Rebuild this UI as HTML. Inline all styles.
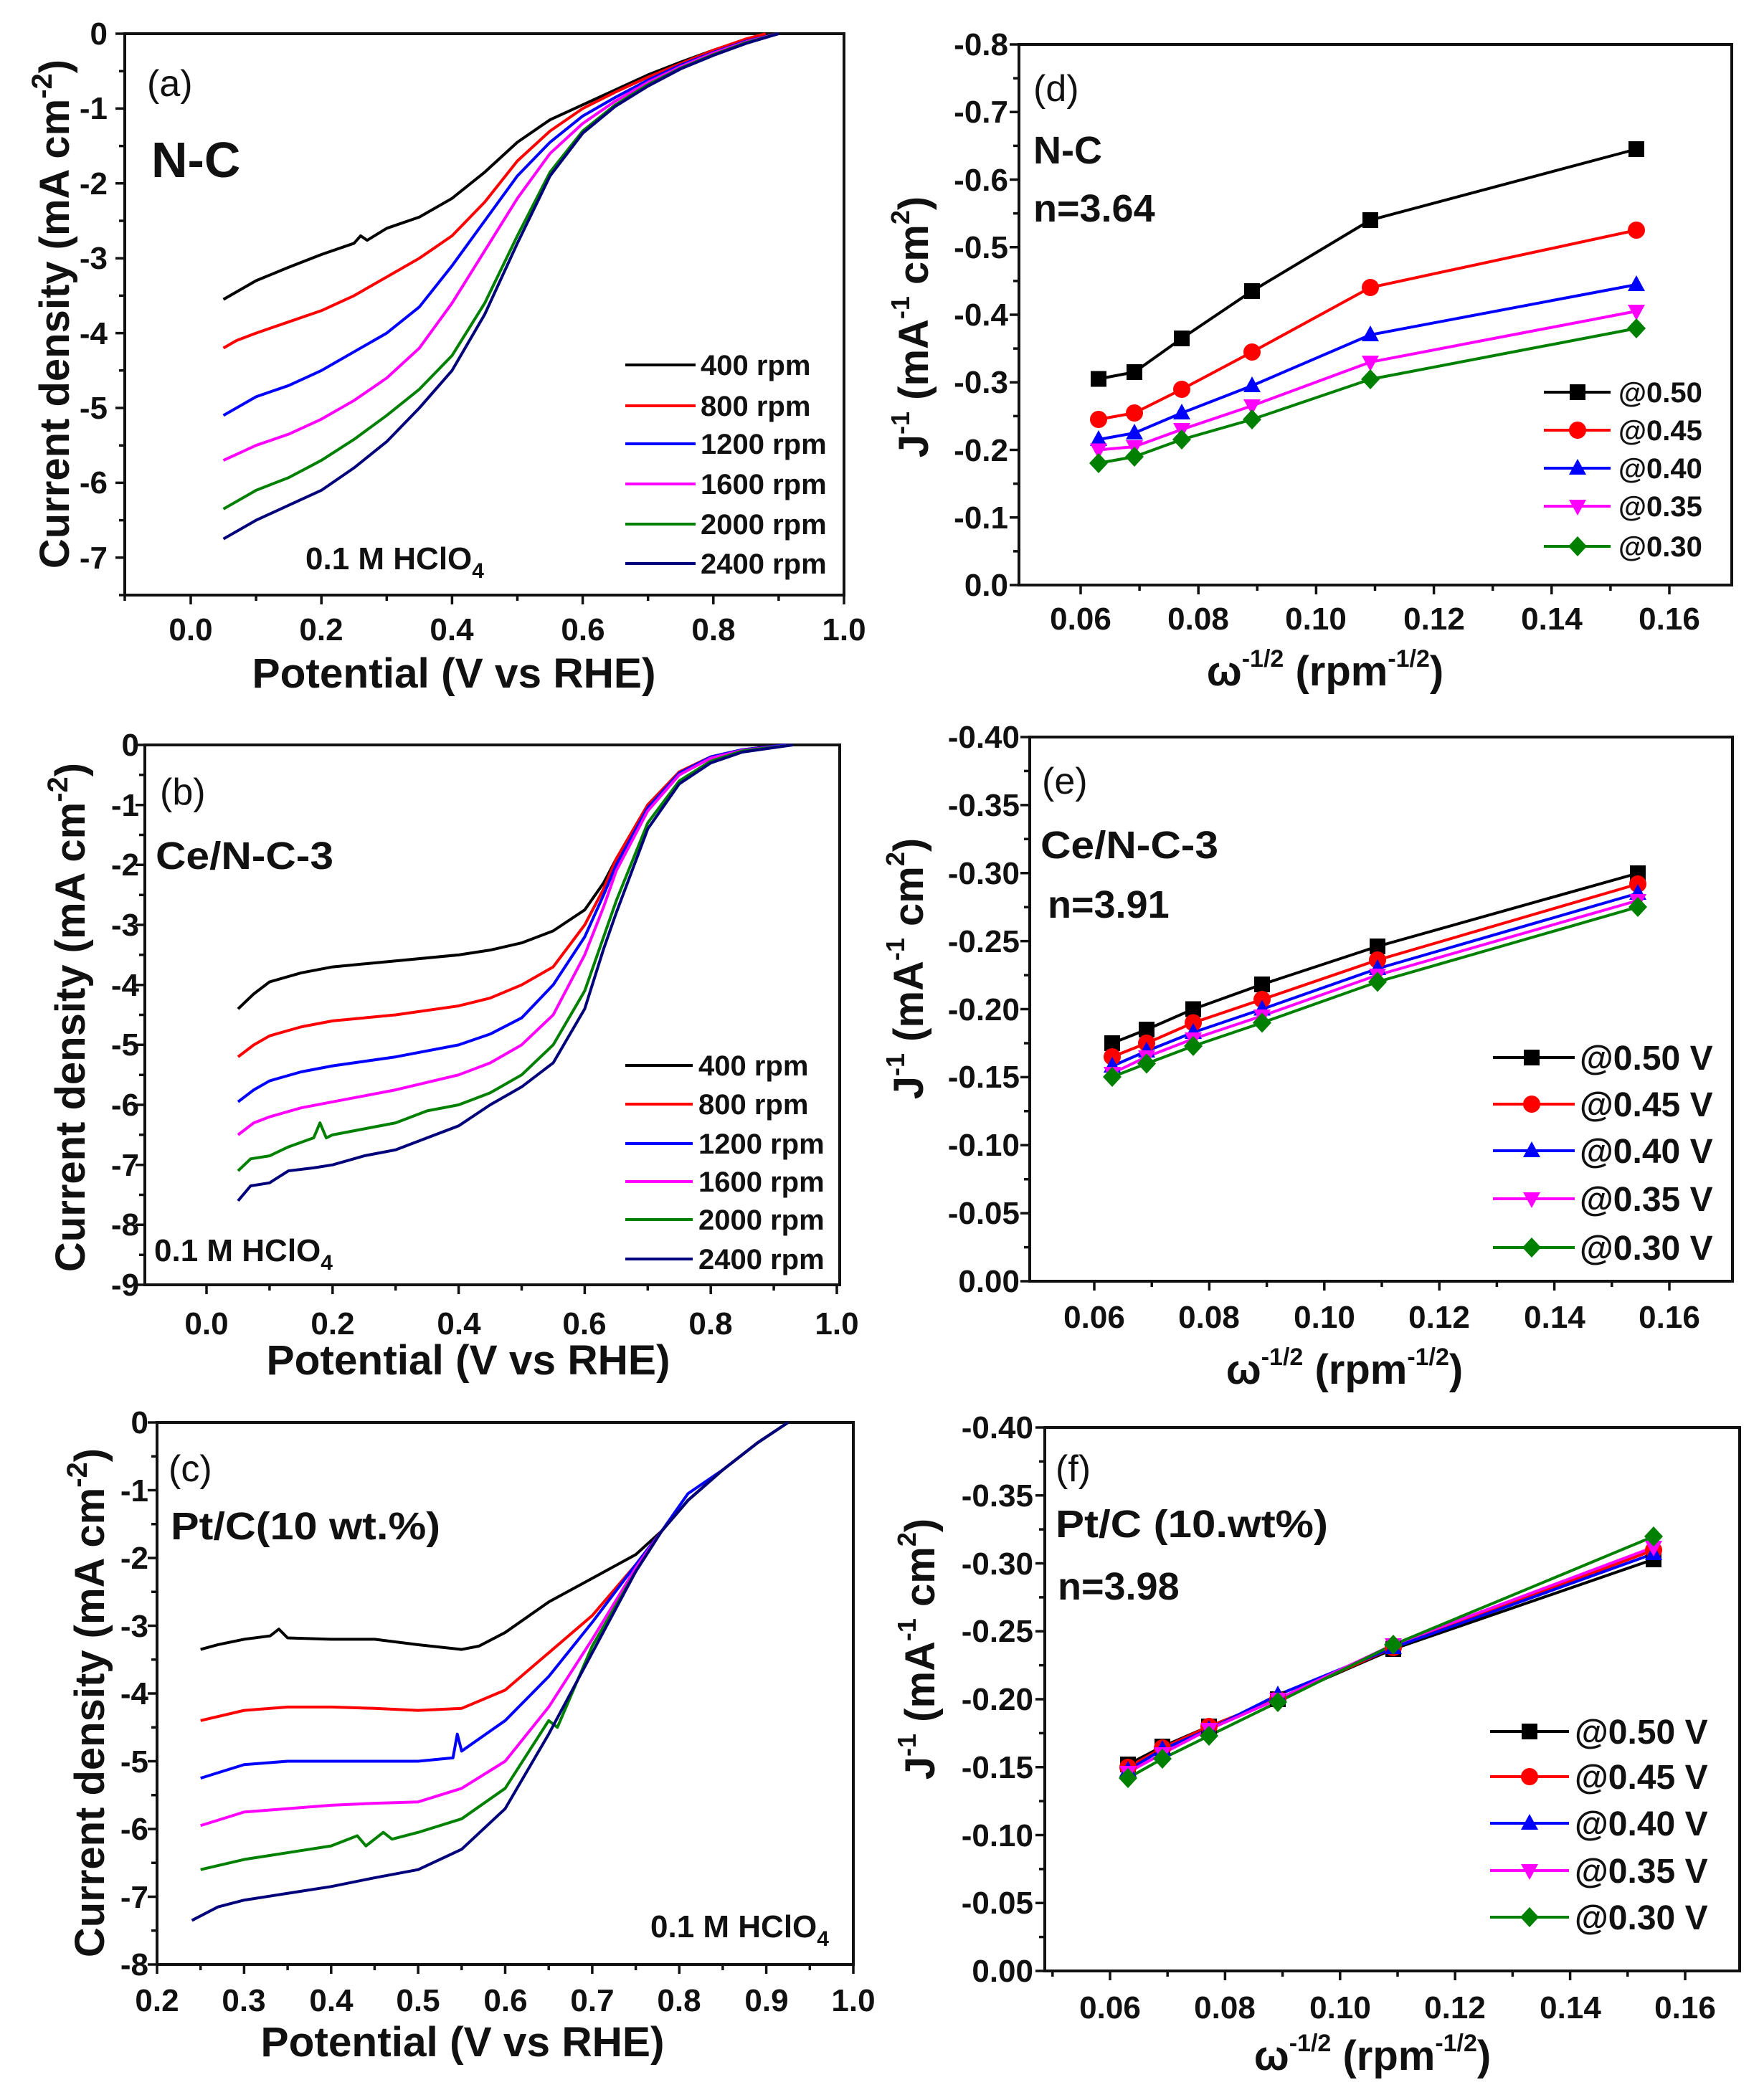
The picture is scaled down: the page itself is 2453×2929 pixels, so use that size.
<!DOCTYPE html>
<html><head><meta charset="utf-8"><style>
html,body{margin:0;padding:0;background:#fff}
svg{display:block}
text{font-family:"Liberation Sans",Arial,sans-serif;font-weight:bold;fill:#111}
.c{fill:none;stroke-width:4;vector-effect:non-scaling-stroke;stroke-linejoin:round}
.ax{fill:none;stroke:#111;stroke-width:4}
.tk{stroke:#111;stroke-width:3.5}
.tl{font-size:44px}
.tt{font-size:58px}
.lg{font-size:40px}
.l{stroke-width:4;fill:none}
</style></head><body>
<svg width="2453" height="2929" viewBox="0 0 2453 2929" xmlns="http://www.w3.org/2000/svg">
<defs>
<rect id="sq" x="-11" y="-11" width="22" height="22"/>
<circle id="ci" r="12"/>
<path id="tu" d="M0,-13 L12,9 L-12,9Z"/>
<path id="td" d="M0,13 L12,-9 L-12,-9Z"/>
<path id="di" d="M0,-14 L13,0 L0,14 L-13,0Z"/>
</defs>

<!-- ============ (a) ============ -->
<rect class="ax" x="174" y="47" width="1003" height="783"/>
<path class="tk" d="M266,830v13M448.2,830v13M630.4,830v13M812.6,830v13M994.8,830v13M1177,830v13M357.1,830v8M539.3,830v8M721.5,830v8M903.7,830v8M1085.9,830v8M174,830v8
M174,47h-13M174,151.4h-13M174,255.8h-13M174,360.2h-13M174,464.6h-13M174,569h-13M174,673.4h-13M174,777.8h-13
M174,99.2h-8M174,203.6h-8M174,308h-8M174,412.4h-8M174,516.8h-8M174,621.2h-8M174,725.6h-8M174,830h-8"/>
<g class="tl" text-anchor="end">
<text x="150" y="62">0</text><text x="150" y="166">-1</text><text x="150" y="271">-2</text><text x="150" y="375">-3</text><text x="150" y="480">-4</text><text x="150" y="584">-5</text><text x="150" y="688">-6</text><text x="150" y="793">-7</text>
</g>
<g class="tl" text-anchor="middle">
<text x="266" y="893">0.0</text><text x="448" y="893">0.2</text><text x="630" y="893">0.4</text><text x="813" y="893">0.6</text><text x="995" y="893">0.8</text><text x="1177" y="893">1.0</text>
</g>
<text class="tt" x="633" y="959" text-anchor="middle" textLength="563" lengthAdjust="spacingAndGlyphs">Potential (V vs RHE)</text>
<text class="tt" transform="translate(96,438) rotate(-90)" text-anchor="middle">Current density (mA cm<tspan font-size="40" dy="-24">-2</tspan><tspan dy="24">)</tspan></text>
<text x="205" y="134" font-size="52" style="font-weight:normal">(a)</text>
<text x="211" y="247" font-size="70">N-C</text>
<text x="426" y="794" font-size="44">0.1 M HClO<tspan font-size="30" dy="12">4</tspan></text>
<g transform="matrix(911 0 0 -104.4 266 47)">
<polyline class="c" stroke="#000" points="0.05,-3.55 0.1,-3.3 0.15,-3.12 0.2,-2.95 0.25,-2.8 0.26,-2.7 0.27,-2.76 0.3,-2.6 0.35,-2.45 0.4,-2.2 0.45,-1.85 0.5,-1.45 0.55,-1.15 0.6,-0.95 0.65,-0.75 0.7,-0.55 0.75,-0.38 0.8,-0.22 0.85,-0.08 0.88,0"/>
<polyline class="c" stroke="#f00" points="0.05,-4.2 0.07,-4.1 0.1,-4.0 0.15,-3.85 0.2,-3.7 0.25,-3.5 0.3,-3.25 0.35,-3.0 0.4,-2.7 0.45,-2.25 0.5,-1.7 0.55,-1.3 0.6,-1.0 0.65,-0.78 0.7,-0.58 0.75,-0.4 0.8,-0.22 0.85,-0.07 0.88,0"/>
<polyline class="c" stroke="#00f" points="0.05,-5.1 0.1,-4.85 0.15,-4.7 0.2,-4.5 0.25,-4.25 0.3,-4.0 0.35,-3.65 0.4,-3.1 0.45,-2.5 0.5,-1.9 0.55,-1.45 0.6,-1.1 0.65,-0.85 0.7,-0.62 0.75,-0.42 0.8,-0.25 0.85,-0.1 0.9,0"/>
<polyline class="c" stroke="#f0f" points="0.05,-5.7 0.1,-5.5 0.15,-5.35 0.2,-5.15 0.25,-4.9 0.3,-4.6 0.35,-4.2 0.4,-3.6 0.45,-2.9 0.5,-2.2 0.55,-1.6 0.6,-1.2 0.65,-0.9 0.7,-0.65 0.75,-0.44 0.8,-0.26 0.85,-0.11 0.9,0"/>
<polyline class="c" stroke="#008000" points="0.05,-6.35 0.1,-6.1 0.15,-5.93 0.2,-5.7 0.25,-5.42 0.3,-5.1 0.35,-4.75 0.4,-4.3 0.45,-3.6 0.5,-2.7 0.55,-1.85 0.6,-1.3 0.65,-0.95 0.7,-0.68 0.75,-0.46 0.8,-0.28 0.85,-0.12 0.9,0"/>
<polyline class="c" stroke="#00007a" points="0.05,-6.75 0.1,-6.5 0.15,-6.3 0.2,-6.1 0.25,-5.8 0.3,-5.45 0.35,-5.0 0.4,-4.5 0.45,-3.75 0.5,-2.8 0.55,-1.9 0.6,-1.33 0.65,-0.97 0.7,-0.7 0.75,-0.47 0.8,-0.29 0.85,-0.13 0.9,0"/>
</g>
<g class="l">
<path d="M872,509h98" stroke="#000"/><path d="M872,566h98" stroke="#f00"/><path d="M872,619h98" stroke="#00f"/><path d="M872,675h98" stroke="#f0f"/><path d="M872,731h98" stroke="#008000"/><path d="M872,786h98" stroke="#00007a"/>
</g>
<g class="lg">
<text x="977" y="523">400 rpm</text><text x="977" y="580">800 rpm</text><text x="977" y="633">1200 rpm</text><text x="977" y="689">1600 rpm</text><text x="977" y="745">2000 rpm</text><text x="977" y="800">2400 rpm</text>
</g>

<!-- ============ (b) ============ -->
<rect class="ax" x="202" y="1039" width="969" height="753"/>
<path class="tk" d="M288,1792v13M463.8,1792v13M639.6,1792v13M815.4,1792v13M991.2,1792v13M1167,1792v13M375.9,1792v8M551.7,1792v8M727.5,1792v8M903.3,1792v8M1079.1,1792v8
M202,1039h-13M202,1122.7h-13M202,1206.3h-13M202,1290h-13M202,1373.7h-13M202,1457.3h-13M202,1541h-13M202,1624.7h-13M202,1708.3h-13M202,1792h-13
M202,1080.8h-8M202,1164.5h-8M202,1248.2h-8M202,1331.8h-8M202,1415.5h-8M202,1499.2h-8M202,1582.8h-8M202,1666.5h-8M202,1750.2h-8"/>
<g class="tl" text-anchor="end">
<text x="194" y="1054">0</text><text x="194" y="1138">-1</text><text x="194" y="1221">-2</text><text x="194" y="1305">-3</text><text x="194" y="1389">-4</text><text x="194" y="1472">-5</text><text x="194" y="1556">-6</text><text x="194" y="1640">-7</text><text x="194" y="1723">-8</text><text x="194" y="1807">-9</text>
</g>
<g class="tl" text-anchor="middle">
<text x="288" y="1861">0.0</text><text x="464" y="1861">0.2</text><text x="640" y="1861">0.4</text><text x="815" y="1861">0.6</text><text x="991" y="1861">0.8</text><text x="1167" y="1861">1.0</text>
</g>
<text class="tt" x="653" y="1917" text-anchor="middle" textLength="563" lengthAdjust="spacingAndGlyphs">Potential (V vs RHE)</text>
<text class="tt" transform="translate(118,1419) rotate(-90)" text-anchor="middle">Current density (mA cm<tspan font-size="40" dy="-24">-2</tspan><tspan dy="24">)</tspan></text>
<text x="223" y="1122" font-size="52" style="font-weight:normal">(b)</text>
<text x="217" y="1212" font-size="54" textLength="248" lengthAdjust="spacingAndGlyphs">Ce/N-C-3</text>
<text x="215" y="1759" font-size="44">0.1 M HClO<tspan font-size="30" dy="12">4</tspan></text>
<g transform="matrix(879 0 0 -83.67 288 1039)">
<polyline class="c" stroke="#000" points="0.05,-4.4 0.075,-4.15 0.1,-3.95 0.15,-3.8 0.2,-3.7 0.3,-3.6 0.4,-3.5 0.45,-3.42 0.5,-3.3 0.55,-3.1 0.6,-2.75 0.63,-2.3 0.65,-1.9 0.7,-1.0 0.75,-0.45 0.8,-0.2 0.85,-0.08 0.92,0"/>
<polyline class="c" stroke="#f00" points="0.05,-5.2 0.075,-5.0 0.1,-4.85 0.15,-4.7 0.2,-4.6 0.3,-4.5 0.4,-4.35 0.45,-4.22 0.5,-4.0 0.55,-3.7 0.6,-3.0 0.63,-2.4 0.65,-1.9 0.7,-1.0 0.75,-0.45 0.8,-0.2 0.85,-0.08 0.92,0"/>
<polyline class="c" stroke="#00f" points="0.05,-5.95 0.075,-5.75 0.1,-5.6 0.15,-5.45 0.2,-5.35 0.3,-5.2 0.4,-5.0 0.45,-4.82 0.5,-4.55 0.55,-4.0 0.6,-3.2 0.63,-2.5 0.65,-2.0 0.7,-1.05 0.75,-0.47 0.8,-0.2 0.85,-0.08 0.92,0"/>
<polyline class="c" stroke="#f0f" points="0.05,-6.5 0.075,-6.3 0.1,-6.2 0.15,-6.05 0.2,-5.95 0.3,-5.75 0.4,-5.5 0.45,-5.3 0.5,-5.0 0.55,-4.5 0.6,-3.5 0.63,-2.7 0.65,-2.1 0.7,-1.1 0.75,-0.5 0.8,-0.22 0.85,-0.09 0.93,0"/>
<polyline class="c" stroke="#008000" points="0.05,-7.1 0.07,-6.9 0.1,-6.85 0.13,-6.7 0.17,-6.55 0.18,-6.3 0.19,-6.55 0.2,-6.5 0.25,-6.4 0.3,-6.3 0.35,-6.1 0.4,-6.0 0.45,-5.8 0.5,-5.5 0.55,-5.0 0.6,-4.1 0.63,-3.2 0.65,-2.6 0.7,-1.3 0.75,-0.6 0.8,-0.27 0.85,-0.1 0.93,0"/>
<polyline class="c" stroke="#00007a" points="0.05,-7.6 0.07,-7.35 0.1,-7.3 0.13,-7.1 0.17,-7.05 0.2,-7.0 0.25,-6.85 0.3,-6.75 0.35,-6.55 0.4,-6.35 0.45,-6.0 0.5,-5.7 0.55,-5.3 0.6,-4.4 0.63,-3.4 0.65,-2.8 0.7,-1.4 0.75,-0.65 0.8,-0.3 0.85,-0.12 0.93,0"/>
</g>
<g class="l">
<path d="M872,1486h94" stroke="#000"/><path d="M872,1540h94" stroke="#f00"/><path d="M872,1595h94" stroke="#00f"/><path d="M872,1648h94" stroke="#f0f"/><path d="M872,1701h94" stroke="#008000"/><path d="M872,1756h94" stroke="#00007a"/>
</g>
<g class="lg">
<text x="974" y="1500">400 rpm</text><text x="974" y="1554">800 rpm</text><text x="974" y="1609">1200 rpm</text><text x="974" y="1662">1600 rpm</text><text x="974" y="1715">2000 rpm</text><text x="974" y="1770">2400 rpm</text>
</g>

<!-- ============ (c) ============ -->
<rect class="ax" x="219" y="1984" width="971" height="756"/>
<path class="tk" d="M219,2740v13M340.4,2740v13M461.8,2740v13M583.1,2740v13M704.5,2740v13M825.9,2740v13M947.3,2740v13M1068.6,2740v13M1190,2740v13
M279.7,2740v8M401.1,2740v8M522.4,2740v8M643.8,2740v8M765.2,2740v8M886.6,2740v8M1007.9,2740v8M1129.3,2740v8
M219,1984h-13M219,2078.5h-13M219,2173h-13M219,2267.5h-13M219,2362h-13M219,2456.5h-13M219,2551h-13M219,2645.5h-13M219,2740h-13
M219,2031.3h-8M219,2125.8h-8M219,2220.3h-8M219,2314.8h-8M219,2409.3h-8M219,2503.8h-8M219,2598.3h-8M219,2692.8h-8"/>
<g class="tl" text-anchor="end">
<text x="207" y="1999">0</text><text x="207" y="2094">-1</text><text x="207" y="2188">-2</text><text x="207" y="2283">-3</text><text x="207" y="2377">-4</text><text x="207" y="2472">-5</text><text x="207" y="2566">-6</text><text x="207" y="2661">-7</text><text x="207" y="2755">-8</text>
</g>
<g class="tl" text-anchor="middle">
<text x="219" y="2805">0.2</text><text x="340" y="2805">0.3</text><text x="462" y="2805">0.4</text><text x="583" y="2805">0.5</text><text x="705" y="2805">0.6</text><text x="826" y="2805">0.7</text><text x="947" y="2805">0.8</text><text x="1069" y="2805">0.9</text><text x="1190" y="2805">1.0</text>
</g>
<text class="tt" x="645" y="2868" text-anchor="middle" textLength="563" lengthAdjust="spacingAndGlyphs">Potential (V vs RHE)</text>
<text class="tt" transform="translate(145,2375) rotate(-90)" text-anchor="middle">Current density (mA cm<tspan font-size="40" dy="-24">-2</tspan><tspan dy="24">)</tspan></text>
<text x="235" y="2066" font-size="52" style="font-weight:normal">(c)</text>
<text x="238" y="2147" font-size="54" textLength="376" lengthAdjust="spacingAndGlyphs">Pt/C(10 wt.%)</text>
<text x="907" y="2702" font-size="44">0.1 M HClO<tspan font-size="30" dy="12">4</tspan></text>
<g transform="matrix(1213.75 0 0 -94.5 -23.75 1984)">
<polyline class="c" stroke="#000" points="0.25,-3.35 0.27,-3.28 0.3,-3.2 0.33,-3.15 0.34,-3.05 0.35,-3.18 0.4,-3.2 0.45,-3.2 0.5,-3.28 0.55,-3.35 0.57,-3.3 0.6,-3.1 0.65,-2.65 0.7,-2.3 0.75,-1.95 0.78,-1.6 0.81,-1.15 0.85,-0.7 0.89,-0.3 0.925,0"/>
<polyline class="c" stroke="#f00" points="0.25,-4.4 0.3,-4.25 0.35,-4.2 0.4,-4.2 0.45,-4.22 0.5,-4.25 0.55,-4.22 0.6,-3.95 0.65,-3.4 0.7,-2.85 0.75,-2.1 0.78,-1.6 0.81,-1.15 0.85,-0.7 0.89,-0.3 0.925,0"/>
<polyline class="c" stroke="#00f" points="0.25,-5.25 0.3,-5.05 0.35,-5.0 0.4,-5.0 0.45,-5.0 0.5,-5.0 0.54,-4.95 0.545,-4.6 0.55,-4.85 0.6,-4.4 0.65,-3.75 0.7,-2.95 0.75,-2.1 0.78,-1.6 0.81,-1.05 0.85,-0.7 0.89,-0.3 0.925,0"/>
<polyline class="c" stroke="#f0f" points="0.25,-5.95 0.3,-5.75 0.35,-5.7 0.4,-5.65 0.45,-5.62 0.5,-5.6 0.55,-5.4 0.6,-5.0 0.65,-4.2 0.7,-3.2 0.75,-2.15 0.78,-1.6 0.81,-1.15 0.85,-0.7 0.89,-0.3 0.925,0"/>
<polyline class="c" stroke="#008000" points="0.25,-6.6 0.3,-6.45 0.35,-6.35 0.4,-6.25 0.43,-6.1 0.44,-6.25 0.46,-6.05 0.47,-6.15 0.5,-6.05 0.55,-5.85 0.6,-5.4 0.65,-4.4 0.66,-4.5 0.7,-3.3 0.75,-2.2 0.78,-1.6 0.81,-1.15 0.85,-0.7 0.89,-0.3 0.925,0"/>
<polyline class="c" stroke="#00007a" points="0.24,-7.35 0.27,-7.15 0.3,-7.05 0.35,-6.95 0.4,-6.85 0.45,-6.72 0.5,-6.6 0.55,-6.3 0.6,-5.7 0.65,-4.6 0.7,-3.4 0.75,-2.2 0.78,-1.6 0.81,-1.15 0.85,-0.7 0.89,-0.3 0.925,0"/>
</g>

<!-- ============ (d) ============ -->
<rect class="ax" x="1421" y="62" width="994" height="754"/>
<path class="tk" d="M1507,816v13M1671.2,816v13M1835.4,816v13M1999.6,816v13M2163.8,816v13M2328,816v13M1589.1,816v8M1753.3,816v8M1917.5,816v8M2081.7,816v8M2245.9,816v8
M1421,816h-13M1421,721.75h-13M1421,627.5h-13M1421,533.25h-13M1421,439h-13M1421,344.75h-13M1421,250.5h-13M1421,156.25h-13M1421,62h-13
M1421,768.9h-8M1421,674.6h-8M1421,580.4h-8M1421,486.1h-8M1421,391.9h-8M1421,297.6h-8M1421,203.4h-8M1421,109.1h-8"/>
<g class="tl" text-anchor="end">
<text x="1406" y="831">0.0</text><text x="1406" y="737">-0.1</text><text x="1406" y="643">-0.2</text><text x="1406" y="548">-0.3</text><text x="1406" y="454">-0.4</text><text x="1406" y="360">-0.5</text><text x="1406" y="266">-0.6</text><text x="1406" y="171">-0.7</text><text x="1406" y="77">-0.8</text>
</g>
<g class="tl" text-anchor="middle">
<text x="1507" y="878">0.06</text><text x="1671" y="878">0.08</text><text x="1835" y="878">0.10</text><text x="2000" y="878">0.12</text><text x="2164" y="878">0.14</text><text x="2328" y="878">0.16</text>
</g>
<text class="tt" x="1848" y="956" text-anchor="middle">ω<tspan font-size="34" dy="-26">-1/2</tspan><tspan dy="26"> (rpm</tspan><tspan font-size="34" dy="-26">-1/2</tspan><tspan dy="26">)</tspan></text>
<text class="tt" transform="translate(1294,456) rotate(-90)" text-anchor="middle">J<tspan font-size="36" dy="-26">-1</tspan><tspan dy="26"> (mA</tspan><tspan font-size="36" dy="-26">-1</tspan><tspan dy="26"> cm</tspan><tspan font-size="36" dy="-26">2</tspan><tspan dy="26">)</tspan></text>
<text x="1441" y="141" font-size="52" style="font-weight:normal">(d)</text>
<text x="1441" y="228" font-size="54">N-C</text>
<text x="1441" y="309" font-size="54">n=3.64</text>
<g class="l">
<polyline stroke="#000" points="1532,528.5 1582,519 1648,472 1746,406 1911,307 2282,208"/>
<polyline stroke="#f00" points="1532,585 1582,576 1648,543 1746,491 1911,401 2282,321"/>
<polyline stroke="#00f" points="1532,613 1582,604 1648,576 1746,538 1911,467 2282,397"/>
<polyline stroke="#f0f" points="1532,627.5 1582,623 1648,599 1746,566 1911,505 2282,434"/>
<polyline stroke="#008000" points="1532,646 1582,637 1648,613 1746,585 1911,529 2282,458"/>
</g>
<g fill="#000"><use href="#sq" x="1532" y="528.5"/><use href="#sq" x="1582" y="519"/><use href="#sq" x="1648" y="472"/><use href="#sq" x="1746" y="406"/><use href="#sq" x="1911" y="307"/><use href="#sq" x="2282" y="208"/></g>
<g fill="#f00"><use href="#ci" x="1532" y="585"/><use href="#ci" x="1582" y="576"/><use href="#ci" x="1648" y="543"/><use href="#ci" x="1746" y="491"/><use href="#ci" x="1911" y="401"/><use href="#ci" x="2282" y="321"/></g>
<g fill="#00f"><use href="#tu" x="1532" y="613"/><use href="#tu" x="1582" y="604"/><use href="#tu" x="1648" y="576"/><use href="#tu" x="1746" y="538"/><use href="#tu" x="1911" y="467"/><use href="#tu" x="2282" y="397"/></g>
<g fill="#f0f"><use href="#td" x="1532" y="627.5"/><use href="#td" x="1582" y="623"/><use href="#td" x="1648" y="599"/><use href="#td" x="1746" y="566"/><use href="#td" x="1911" y="505"/><use href="#td" x="2282" y="434"/></g>
<g fill="#008000"><use href="#di" x="1532" y="646"/><use href="#di" x="1582" y="637"/><use href="#di" x="1648" y="613"/><use href="#di" x="1746" y="585"/><use href="#di" x="1911" y="529"/><use href="#di" x="2282" y="458"/></g>
<g class="l">
<path d="M2153,547h93" stroke="#000"/><path d="M2153,600h93" stroke="#f00"/><path d="M2153,653h93" stroke="#00f"/><path d="M2153,706h93" stroke="#f0f"/><path d="M2153,762h93" stroke="#008000"/>
</g>
<use href="#sq" x="2200" y="547" fill="#000"/><use href="#ci" x="2200" y="600" fill="#f00"/><use href="#tu" x="2200" y="653" fill="#00f"/><use href="#td" x="2200" y="706" fill="#f0f"/><use href="#di" x="2200" y="762" fill="#008000"/>
<g class="lg">
<text x="2257" y="561">@0.50</text><text x="2257" y="614">@0.45</text><text x="2257" y="667">@0.40</text><text x="2257" y="720">@0.35</text><text x="2257" y="776">@0.30</text>
</g>

<!-- ============ (e) ============ -->
<rect class="ax" x="1436" y="1028" width="980" height="759"/>
<path class="tk" d="M1526,1787v13M1686.4,1787v13M1846.8,1787v13M2007.2,1787v13M2167.6,1787v13M2328,1787v13M1606.2,1787v8M1766.6,1787v8M1927,1787v8M2087.4,1787v8M2247.8,1787v8
M1436,1787h-13M1436,1692.1h-13M1436,1597.3h-13M1436,1502.4h-13M1436,1407.5h-13M1436,1312.6h-13M1436,1217.8h-13M1436,1122.9h-13M1436,1028h-13
M1436,1739.6h-8M1436,1644.7h-8M1436,1549.8h-8M1436,1455h-8M1436,1360.1h-8M1436,1265.2h-8M1436,1170.3h-8M1436,1075.4h-8"/>
<g class="tl" text-anchor="end">
<text x="1422" y="1802">0.00</text><text x="1422" y="1707">-0.05</text><text x="1422" y="1612">-0.10</text><text x="1422" y="1517">-0.15</text><text x="1422" y="1423">-0.20</text><text x="1422" y="1328">-0.25</text><text x="1422" y="1233">-0.30</text><text x="1422" y="1138">-0.35</text><text x="1422" y="1043">-0.40</text>
</g>
<g class="tl" text-anchor="middle">
<text x="1526" y="1852">0.06</text><text x="1686" y="1852">0.08</text><text x="1847" y="1852">0.10</text><text x="2007" y="1852">0.12</text><text x="2168" y="1852">0.14</text><text x="2328" y="1852">0.16</text>
</g>
<text class="tt" x="1875" y="1930" text-anchor="middle">ω<tspan font-size="34" dy="-26">-1/2</tspan><tspan dy="26"> (rpm</tspan><tspan font-size="34" dy="-26">-1/2</tspan><tspan dy="26">)</tspan></text>
<text class="tt" transform="translate(1287,1351) rotate(-90)" text-anchor="middle">J<tspan font-size="36" dy="-26">-1</tspan><tspan dy="26"> (mA</tspan><tspan font-size="36" dy="-26">-1</tspan><tspan dy="26"> cm</tspan><tspan font-size="36" dy="-26">2</tspan><tspan dy="26">)</tspan></text>
<text x="1453" y="1107" font-size="52" style="font-weight:normal">(e)</text>
<text x="1451" y="1197" font-size="54" textLength="248" lengthAdjust="spacingAndGlyphs">Ce/N-C-3</text>
<text x="1461" y="1280" font-size="54">n=3.91</text>
<g class="l">
<polyline stroke="#000" points="1551,1455 1599,1436 1664,1407.5 1760,1373 1921,1320 2284,1218"/>
<polyline stroke="#f00" points="1551,1474 1599,1455 1664,1426.5 1760,1394 1921,1339 2284,1233"/>
<polyline stroke="#00f" points="1551,1487 1599,1466 1664,1440 1760,1407.5 1921,1351 2284,1246"/>
<polyline stroke="#f0f" points="1551,1497 1599,1474 1664,1449 1760,1417 1921,1360 2284,1256"/>
<polyline stroke="#008000" points="1551,1502 1599,1483.5 1664,1459 1760,1426.5 1921,1369.5 2284,1265"/>
</g>
<g fill="#000"><use href="#sq" x="1551" y="1455"/><use href="#sq" x="1599" y="1436"/><use href="#sq" x="1664" y="1407.5"/><use href="#sq" x="1760" y="1373"/><use href="#sq" x="1921" y="1320"/><use href="#sq" x="2284" y="1218"/></g>
<g fill="#f00"><use href="#ci" x="1551" y="1474"/><use href="#ci" x="1599" y="1455"/><use href="#ci" x="1664" y="1426.5"/><use href="#ci" x="1760" y="1394"/><use href="#ci" x="1921" y="1339"/><use href="#ci" x="2284" y="1233"/></g>
<g fill="#00f"><use href="#tu" x="1551" y="1487"/><use href="#tu" x="1599" y="1466"/><use href="#tu" x="1664" y="1440"/><use href="#tu" x="1760" y="1407.5"/><use href="#tu" x="1921" y="1351"/><use href="#tu" x="2284" y="1246"/></g>
<g fill="#f0f"><use href="#td" x="1551" y="1497"/><use href="#td" x="1599" y="1474"/><use href="#td" x="1664" y="1449"/><use href="#td" x="1760" y="1417"/><use href="#td" x="1921" y="1360"/><use href="#td" x="2284" y="1256"/></g>
<g fill="#008000"><use href="#di" x="1551" y="1502"/><use href="#di" x="1599" y="1483.5"/><use href="#di" x="1664" y="1459"/><use href="#di" x="1760" y="1426.5"/><use href="#di" x="1921" y="1369.5"/><use href="#di" x="2284" y="1265"/></g>
<g class="l">
<path d="M2082,1475h114" stroke="#000"/><path d="M2082,1540h114" stroke="#f00"/><path d="M2082,1605h114" stroke="#00f"/><path d="M2082,1672h114" stroke="#f0f"/><path d="M2082,1740h114" stroke="#008000"/>
</g>
<use href="#sq" x="2136" y="1475" fill="#000"/><use href="#ci" x="2136" y="1540" fill="#f00"/><use href="#tu" x="2136" y="1605" fill="#00f"/><use href="#td" x="2136" y="1672" fill="#f0f"/><use href="#di" x="2136" y="1740" fill="#008000"/>
<g font-size="48">
<text x="2203" y="1492">@0.50 V</text><text x="2203" y="1557">@0.45 V</text><text x="2203" y="1622">@0.40 V</text><text x="2203" y="1689">@0.35 V</text><text x="2203" y="1757">@0.30 V</text>
</g>

<!-- ============ (f) ============ -->
<rect class="ax" x="1457" y="1991" width="969" height="758"/>
<path class="tk" d="M1548,2749v13M1708.4,2749v13M1868.8,2749v13M2029.2,2749v13M2189.6,2749v13M2350,2749v13M1467.8,2749v8M1628.2,2749v8M1788.6,2749v8M1949,2749v8M2109.4,2749v8M2269.8,2749v8
M1457,2749h-13M1457,2654.3h-13M1457,2559.5h-13M1457,2464.8h-13M1457,2370h-13M1457,2275.3h-13M1457,2180.5h-13M1457,2085.8h-13M1457,1991h-13
M1457,2701.6h-8M1457,2606.9h-8M1457,2512.1h-8M1457,2417.4h-8M1457,2322.6h-8M1457,2227.9h-8M1457,2133.1h-8M1457,2038.4h-8"/>
<g class="tl" text-anchor="end">
<text x="1441" y="2764">0.00</text><text x="1441" y="2669">-0.05</text><text x="1441" y="2575">-0.10</text><text x="1441" y="2480">-0.15</text><text x="1441" y="2385">-0.20</text><text x="1441" y="2290">-0.25</text><text x="1441" y="2196">-0.30</text><text x="1441" y="2101">-0.35</text><text x="1441" y="2006">-0.40</text>
</g>
<g class="tl" text-anchor="middle">
<text x="1548" y="2815">0.06</text><text x="1708" y="2815">0.08</text><text x="1869" y="2815">0.10</text><text x="2029" y="2815">0.12</text><text x="2190" y="2815">0.14</text><text x="2350" y="2815">0.16</text>
</g>
<text class="tt" x="1914" y="2887" text-anchor="middle">ω<tspan font-size="34" dy="-26">-1/2</tspan><tspan dy="26"> (rpm</tspan><tspan font-size="34" dy="-26">-1/2</tspan><tspan dy="26">)</tspan></text>
<text class="tt" transform="translate(1303,2300) rotate(-90)" text-anchor="middle">J<tspan font-size="36" dy="-26">-1</tspan><tspan dy="26"> (mA</tspan><tspan font-size="36" dy="-26">-1</tspan><tspan dy="26"> cm</tspan><tspan font-size="36" dy="-26">2</tspan><tspan dy="26">)</tspan></text>
<text x="1472" y="2066" font-size="52" style="font-weight:normal">(f)</text>
<text x="1472" y="2144" font-size="54" textLength="380" lengthAdjust="spacingAndGlyphs">Pt/C (10.wt%)</text>
<text x="1475" y="2231" font-size="54">n=3.98</text>
<g class="l">
<polyline stroke="#000" points="1573,2461 1621,2436 1686,2408 1782,2370 1943,2300 2306,2175"/>
<polyline stroke="#f00" points="1573,2465 1621,2438 1686,2408 1782,2370 1943,2298 2306,2162"/>
<polyline stroke="#00f" points="1573,2469 1621,2440 1686,2412 1782,2364 1943,2298 2306,2167"/>
<polyline stroke="#f0f" points="1573,2472 1621,2446 1686,2412 1782,2370 1943,2294 2306,2158"/>
<polyline stroke="#008000" points="1573,2480 1621,2453 1686,2421 1782,2374 1943,2294 2306,2143"/>
</g>
<g fill="#000"><use href="#sq" x="1573" y="2461"/><use href="#sq" x="1621" y="2436"/><use href="#sq" x="1686" y="2408"/><use href="#sq" x="1782" y="2370"/><use href="#sq" x="1943" y="2300"/><use href="#sq" x="2306" y="2175"/></g>
<g fill="#f00"><use href="#ci" x="1573" y="2465"/><use href="#ci" x="1621" y="2438"/><use href="#ci" x="1686" y="2408"/><use href="#ci" x="1782" y="2370"/><use href="#ci" x="1943" y="2298"/><use href="#ci" x="2306" y="2162"/></g>
<g fill="#00f"><use href="#tu" x="1573" y="2469"/><use href="#tu" x="1621" y="2440"/><use href="#tu" x="1686" y="2412"/><use href="#tu" x="1782" y="2364"/><use href="#tu" x="1943" y="2298"/><use href="#tu" x="2306" y="2167"/></g>
<g fill="#f0f"><use href="#td" x="1573" y="2472"/><use href="#td" x="1621" y="2446"/><use href="#td" x="1686" y="2412"/><use href="#td" x="1782" y="2370"/><use href="#td" x="1943" y="2294"/><use href="#td" x="2306" y="2158"/></g>
<g fill="#008000"><use href="#di" x="1573" y="2480"/><use href="#di" x="1621" y="2453"/><use href="#di" x="1686" y="2421"/><use href="#di" x="1782" y="2374"/><use href="#di" x="1943" y="2294"/><use href="#di" x="2306" y="2143"/></g>
<g class="l">
<path d="M2078,2415h110" stroke="#000"/><path d="M2078,2478h110" stroke="#f00"/><path d="M2078,2543h110" stroke="#00f"/><path d="M2078,2609h110" stroke="#f0f"/><path d="M2078,2674h110" stroke="#008000"/>
</g>
<use href="#sq" x="2133" y="2415" fill="#000"/><use href="#ci" x="2133" y="2478" fill="#f00"/><use href="#tu" x="2133" y="2543" fill="#00f"/><use href="#td" x="2133" y="2609" fill="#f0f"/><use href="#di" x="2133" y="2674" fill="#008000"/>
<g font-size="48">
<text x="2196" y="2432">@0.50 V</text><text x="2196" y="2495">@0.45 V</text><text x="2196" y="2560">@0.40 V</text><text x="2196" y="2626">@0.35 V</text><text x="2196" y="2691">@0.30 V</text>
</g>
</svg>
</body></html>
